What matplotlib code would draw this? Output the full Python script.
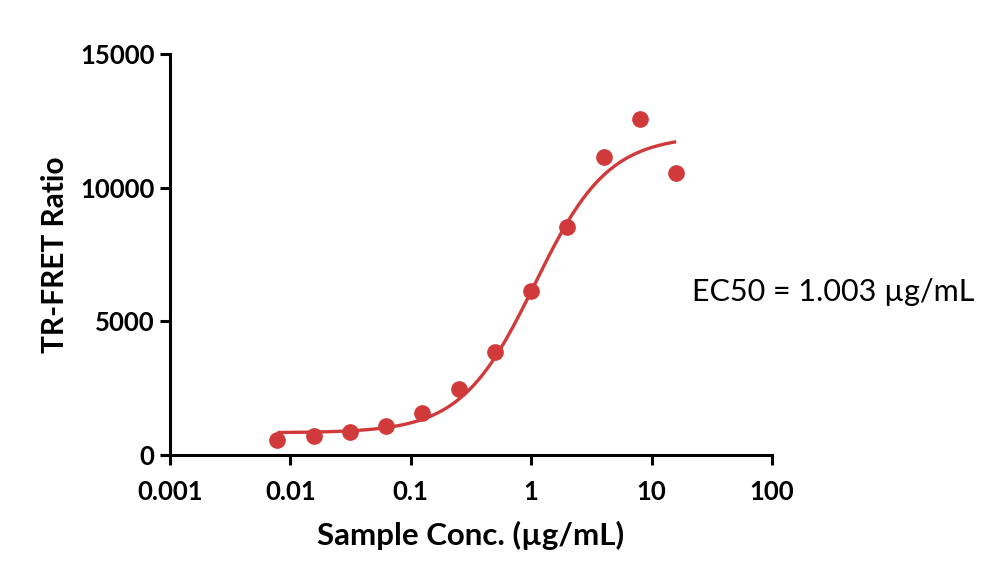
import numpy as np
import matplotlib
matplotlib.use("Agg")
import matplotlib.pyplot as plt

plt.rcParams['font.family'] = ['Lato', 'DejaVu Sans']

# data
conc = [0.0078, 0.0156, 0.03125, 0.0625, 0.125, 0.25, 0.5, 1, 2, 4, 8, 16]
ratio = [560, 710, 860, 1085, 1570, 2470, 3850, 6130, 8540, 11145, 12565, 10545]

# 4PL fit parameters (as drawn)
bottom = 830
top = 11950
ec50_fit = 1.07
hill = 1.42

x_ticks = [0.001, 0.01, 0.1, 1, 10, 100]
x_labels = ["0.001", "0.01", "0.1", "1", "10", "100"]
y_ticks = [0, 5000, 10000, 15000]

red = "#d13a3a"

fig = plt.figure(figsize=(10, 5.83), dpi=100)
ax = fig.add_axes([0.17, 0.2196, 0.602, 0.6878])

xf = np.logspace(np.log10(conc[0]), np.log10(conc[-1]), 300)
yf = bottom + (top - bottom) / (1 + (ec50_fit / xf) ** hill)
ax.plot(xf, yf, color=red, lw=2.4, solid_capstyle='butt', zorder=2)
ax.plot(conc, ratio, 'o', color=red, ms=11, mec=red, zorder=3)

ax.set_xscale('log')
ax.set_xlim(0.001, 100)
ax.set_ylim(0, 15000)
ax.set_xticks(x_ticks)
ax.set_xticklabels(x_labels)
ax.xaxis.set_minor_locator(matplotlib.ticker.NullLocator())
ax.set_yticks(y_ticks)

for s in ['top', 'right']:
    ax.spines[s].set_visible(False)
for s in ['left', 'bottom']:
    ax.spines[s].set_linewidth(2.2)

ax.tick_params(axis='both', width=2.2, length=7, labelsize=18.5)
ax.tick_params(axis='x', pad=11)
ax.tick_params(axis='y', pad=4)
for lab in ax.get_xticklabels() + ax.get_yticklabels():
    lab.set_fontweight('bold')

ax.set_xlabel("Sample Conc. (µg/mL)", fontsize=22.5, fontweight='bold', labelpad=12)
ax.set_ylabel("TR-FRET Ratio", fontsize=21.5, fontweight='bold', labelpad=8)

fig.text(0.692, 0.499, "EC50 = 1.003 µg/mL", fontsize=22, va='center', ha='left')

fig.savefig("out.png", dpi=100)
